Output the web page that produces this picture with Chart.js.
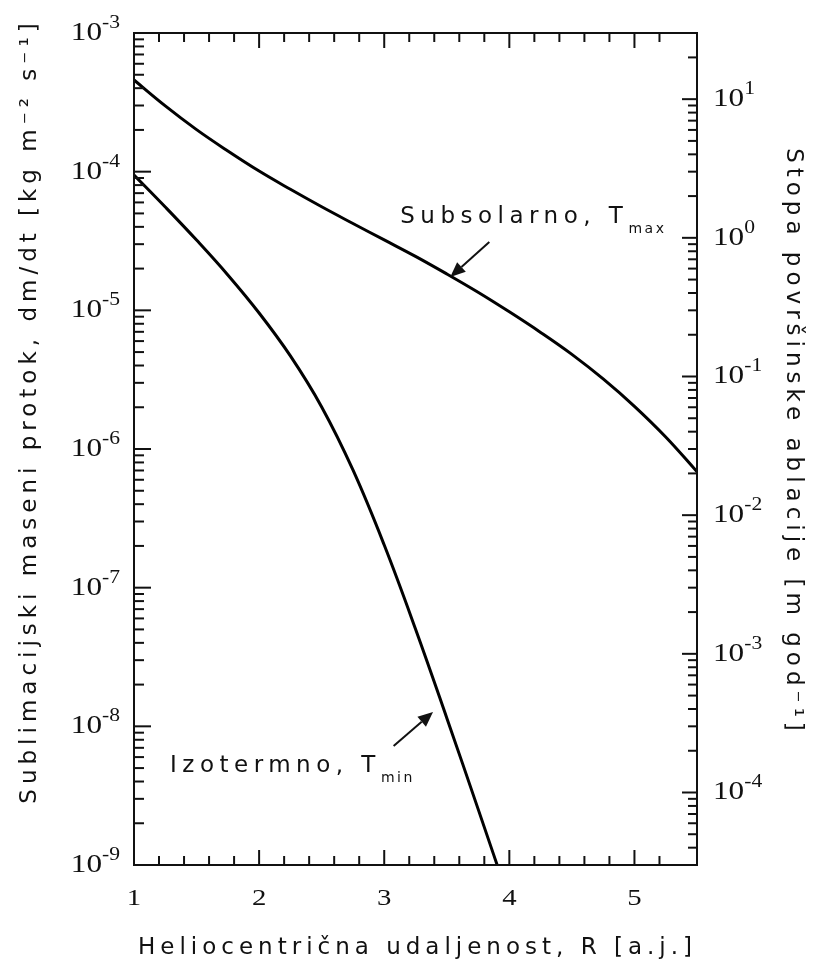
<!DOCTYPE html>
<html>
<head>
<meta charset="utf-8">
<script src="https://cdn.jsdelivr.net/npm/chart.js@4.4.0/dist/chart.umd.min.js"></script>
<style>
html, body { margin: 0; padding: 0; background: #fff; }
#wrap { width: 815px; height: 966px; }
</style>
</head>
<body>
<div id="wrap"><canvas id="plot"></canvas></div>
<script>
// heliocentric distance R [a.j.] and sublimation mass flux [kg m-2 s-1]
const subsolarR = [1.0, 1.25, 1.5, 1.75, 2.0, 2.25, 2.5, 2.75, 3.0, 3.25, 3.5, 3.75, 4.0, 4.25, 4.5, 4.75, 5.0, 5.25, 5.5]
const subsolarFlux = [4.58e-4, 2.98e-4, 2.01e-4, 1.41e-4, 1.01e-4, 7.46e-5, 5.58e-5, 4.23e-5, 3.22e-5, 2.45e-5,
	1.83e-5, 1.35e-5, 9.75e-6, 6.93e-6, 4.81e-6, 3.20e-6, 2.03e-6, 1.22e-6, 6.86e-7]
const isothermR = [1.0, 1.25, 1.5, 1.75, 2.0, 2.25, 2.5, 2.75, 3.0, 3.25, 3.5, 3.75, 4.0]
const isothermFlux = [9.46e-5, 5.56e-5, 3.21e-5, 1.80e-5, 9.57e-6, 4.69e-6, 2.01e-6, 7.06e-7, 2.03e-7, 5.04e-8,
	1.15e-8, 2.54e-9, 5.51e-10]

// axes
const rMin = 1, rMax = 5.5
const rTickLabels = [1, 2, 3, 4, 5]
const fluxMin = 1e-9, fluxMax = 1e-3
const fluxExponents = [-9, -8, -7, -6, -5, -4, -3]
const ablationFactor = 3.0e4   // kg m-2 s-1 -> m god-1
const ablationExponents = [-4, -3, -2, -1, 0, 1]

// labels with arrows (data coordinates)
const subsolarNote = { text: 'Subsolarno, T', sub: 'max', at: [3.128, 4.27e-5], tail: [3.84, 3.11e-5], tip: [3.528, 1.74e-5] }
const isothermNote = { text: 'Izotermno, T', sub: 'min', at: [1.288, 4.69e-9], tail: [3.075, 7.2e-9], tip: [3.39, 1.27e-8] }

const xTitle = 'Heliocentrična udaljenost, R [a.j.]'
const yTitle = 'Sublimacijski maseni protok, dm/dt [kg m⁻² s⁻¹]'
const y2Title = 'Stopa površinske ablacije [m god⁻¹]'

const ink = '#111'
const sans = '"DejaVu Sans"'
const serif = '"Liberation Serif"'

const frame = {
	id: 'frame',
	afterDraw(chart) {
		const { ctx, chartArea: a } = chart
		const { x, y, y2 } = chart.scales
		ctx.save()
		ctx.strokeStyle = ink
		ctx.fillStyle = ink
		ctx.lineWidth = 2
		ctx.strokeRect(a.left, a.top, a.right - a.left, a.bottom - a.top)

		const seg = (x0, y0, x1, y1) => { ctx.beginPath(); ctx.moveTo(x0, y0); ctx.lineTo(x1, y1); ctx.stroke() }

		// R ticks, inward, bottom and top
		x.ticks.forEach(t => {
			const px = x.getPixelForValue(t.value)
			if (px < a.left + 2 || px > a.right - 2) return
			const len = Number.isInteger(t.value) ? 15 : 9
			seg(px, a.bottom, px, a.bottom - len)
			seg(px, a.top, px, a.top + len)
		})

		// log ticks 1..9 per decade
		const logTicks = (scale, edge, dir, major, minor) => {
			const e0 = Math.floor(Math.log10(scale.min)), e1 = Math.ceil(Math.log10(scale.max))
			for (let e = e0; e <= e1; e++) {
				for (let m = 1; m < 10; m++) {
					const v = m * Math.pow(10, e)
					if (v < scale.min || v > scale.max) continue
					const py = scale.getPixelForValue(v)
					if (py < a.top + 2 || py > a.bottom - 2) continue
					seg(edge, py, edge + dir * (m === 1 ? major : minor), py)
				}
			}
		}
		logTicks(y, a.left, 1, 17, 10)
		logTicks(y2, a.right, -1, 15, 9)

		// serif numbers, slightly widened like the original
		const powLabel = (e, px, py, align) => {
			ctx.save()
			ctx.translate(px, py)
			ctx.scale(1.2, 1)
			ctx.textAlign = 'left'
			ctx.textBaseline = 'alphabetic'
			ctx.font = '26px ' + serif
			const wb = ctx.measureText('10').width
			ctx.font = '18px ' + serif
			const sup = String(e)
			const we = ctx.measureText(sup).width
			const x0 = align === 'right' ? -(wb + we) : 0
			ctx.font = '26px ' + serif
			ctx.fillText('10', x0, 7)
			ctx.font = '18px ' + serif
			ctx.fillText(sup, x0 + wb, -5)
			ctx.restore()
		}
		fluxExponents.forEach(e => powLabel(e, a.left - 14, y.getPixelForValue(Math.pow(10, e)), 'right'))
		ablationExponents.forEach(e => powLabel(e, a.right + 16, y2.getPixelForValue(Math.pow(10, e)), 'left'))

		rTickLabels.forEach(r => {
			ctx.save()
			ctx.translate(x.getPixelForValue(r), a.bottom + 40)
			ctx.scale(1.2, 1)
			ctx.font = '24px ' + serif
			ctx.textAlign = 'center'
			ctx.textBaseline = 'alphabetic'
			ctx.fillText(String(r), 0, 0)
			ctx.restore()
		})

		// axis titles
		const title = (text, px, py, rot) => {
			ctx.save()
			ctx.translate(px, py)
			ctx.rotate(rot)
			ctx.font = '23px ' + sans
			ctx.letterSpacing = '5px'
			ctx.textAlign = 'center'
			ctx.textBaseline = 'middle'
			ctx.fillText(text, 0, 0)
			ctx.restore()
		}
		title(xTitle, (a.left + a.right) / 2 + 2, 948, 0)
		title(yTitle, 30, 411, -Math.PI / 2)
		title(y2Title, 793, 442, Math.PI / 2)

		// curve labels with arrows
		const note = n => {
			const tx = x.getPixelForValue(n.at[0]), ty = y.getPixelForValue(n.at[1])
			ctx.save()
			ctx.textAlign = 'left'
			ctx.textBaseline = 'alphabetic'
			ctx.font = '23px ' + sans
			ctx.letterSpacing = '5.5px'
			ctx.fillText(n.text, tx, ty)
			const w = ctx.measureText(n.text).width
			ctx.font = '14px ' + sans
			ctx.letterSpacing = '2.5px'
			ctx.fillText(n.sub, tx + w, ty + 10)
			ctx.restore()

			const x0 = x.getPixelForValue(n.tail[0]), y0 = y.getPixelForValue(n.tail[1])
			const x1 = x.getPixelForValue(n.tip[0]), y1 = y.getPixelForValue(n.tip[1])
			const ang = Math.atan2(y1 - y0, x1 - x0)
			const head = 15, half = 6.5
			const bx = x1 - head * Math.cos(ang), by = y1 - head * Math.sin(ang)
			seg(x0, y0, bx, by)
			ctx.beginPath()
			ctx.moveTo(x1, y1)
			ctx.lineTo(bx + half * Math.sin(ang), by - half * Math.cos(ang))
			ctx.lineTo(bx - half * Math.sin(ang), by + half * Math.cos(ang))
			ctx.closePath()
			ctx.fill()
		}
		note(subsolarNote)
		note(isothermNote)
		ctx.restore()
	}
}

const pts = (rs, vs) => rs.map((r, i) => ({ x: r, y: vs[i] }))

const plot = new Chart(document.getElementById('plot'), {
	type: 'line',
	data: {
		datasets: [
			{
				label: 'Subsolarno, Tmax',
				data: pts(subsolarR, subsolarFlux),
				borderColor: '#000',
				borderWidth: 3,
				pointRadius: 0,
				tension: 0.4,
				yAxisID: 'y'
			},
			{
				label: 'Izotermno, Tmin',
				data: pts(isothermR, isothermFlux),
				borderColor: '#000',
				borderWidth: 3,
				pointRadius: 0,
				tension: 0.4,
				yAxisID: 'y'
			}
		]
	},
	options: {
		responsive: true,
		maintainAspectRatio: false,
		animation: false,
		events: [],
		layout: { padding: { left: 10, right: 8, top: 33, bottom: 0 } },
		plugins: { legend: { display: false }, tooltip: { enabled: false } },
		scales: {
			x: {
				type: 'linear', min: rMin, max: rMax,
				grid: { display: false, drawTicks: false },
				border: { display: false },
				ticks: { stepSize: 0.2, autoSkip: false, display: false },
				afterFit: s => { s.height = 101 }
			},
			y: {
				type: 'logarithmic', position: 'left', min: fluxMin, max: fluxMax,
				grid: { display: false, drawTicks: false },
				border: { display: false },
				ticks: { display: false },
				afterFit: s => { s.width = 124 }
			},
			y2: {
				type: 'logarithmic', position: 'right',
				min: fluxMin * ablationFactor, max: fluxMax * ablationFactor,
				grid: { display: false, drawTicks: false },
				border: { display: false },
				ticks: { display: false },
				afterFit: s => { s.width = 110 }
			}
		}
	},
	plugins: [frame]
})
</script>
</body>
</html>
